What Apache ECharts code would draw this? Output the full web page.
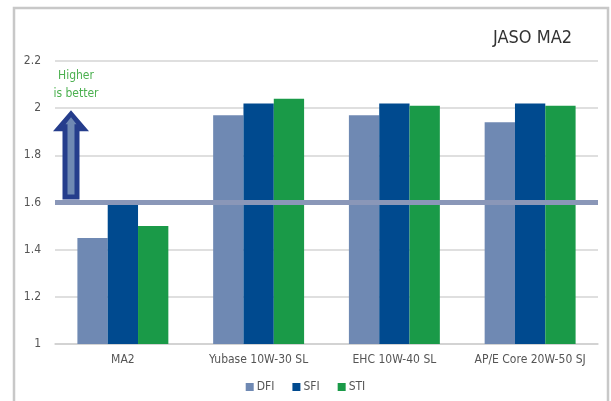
<!DOCTYPE html>
<html><head><meta charset="utf-8">
<script src="https://cdn.jsdelivr.net/npm/echarts@6/dist/echarts.min.js"></script>
<style>html,body{margin:0;padding:0;background:#fff}#c{width:611px;height:401px}</style>
</head><body><div id="c"></div>
<script>
const categories = ['MA2', 'Yubase 10W-30 SL', 'EHC 10W-40 SL', 'AP/E Core 20W-50 SJ'];
const dfi = [1.45, 1.97, 1.97, 1.94];
const sfi = [1.60, 2.02, 2.02, 2.02];
const sti = [1.50, 2.04, 2.01, 2.01];
const seriesNames = ['DFI', 'SFI', 'STI'];
const yTicks = [1, 1.2, 1.4, 1.6, 1.8, 2, 2.2];
const threshold = 1.6;

const FONT = '"DejaVu Sans Condensed", "DejaVu Sans", sans-serif';
const ST = 'condensed';
const colors = ['#6f89b3', '#004a8f', '#1a9a48'];
const chart = echarts.init(document.getElementById('c'), null, {renderer: 'canvas'});

const option = {
  animation: false,
  textStyle: {fontFamily: FONT, fontStyle: ST},
  title: {text: 'JASO MA2', right: 34, top: 24, textStyle: {fontFamily: FONT, fontStyle: ST, fontSize: 18, fontWeight: 'normal', color: '#333'}},
  grid: {left: 55, right: 13, top: 61, bottom: 57},
  legend: {bottom: 3, left: 'center', itemWidth: 8, itemHeight: 8, itemGap: 18, icon: 'rect',
    textStyle: {fontFamily: FONT, fontStyle: ST, fontSize: 12, color: '#555', padding: [0, 0, 0, -2]}, data: seriesNames},
  xAxis: {type: 'category', data: categories,
    axisLine: {lineStyle: {color: '#d0d0d0', width: 1.5}}, axisTick: {show: false},
    axisLabel: {interval: 0, fontFamily: FONT, fontStyle: ST, fontSize: 12, color: '#555', margin: 10}},
  yAxis: {type: 'value', min: 1, max: 2.2, interval: 0.2,
    axisLine: {show: false}, axisTick: {show: false},
    splitLine: {lineStyle: {color: '#d4d4d4', width: 1.5}},
    axisLabel: {fontFamily: FONT, fontStyle: ST, fontSize: 12, color: '#555', margin: 14,
      formatter: v => String(Math.round(v * 10) / 10)}},
  series: [
    {name: 'DFI', type: 'bar', data: dfi, itemStyle: {color: colors[0]}, barGap: '0%', barCategoryGap: '33%'},
    {name: 'SFI', type: 'bar', data: sfi, itemStyle: {color: colors[1]}},
    {name: 'STI', type: 'bar', data: sti, itemStyle: {color: colors[2]},
      markLine: {silent: true, symbol: 'none', label: {show: false}, z: 10,
        lineStyle: {color: '#8a97b8', width: 5, type: 'solid'}, data: [{yAxis: threshold}]}}
  ]
};
chart.setOption(option);

const base = chart.convertToPixel({yAxisIndex: 0}, threshold);
const top2 = chart.convertToPixel({yAxisIndex: 0}, 2);
const ax = 71;
const tipY = top2 + 2;
const headBase = tipY + 21;
const bottomY = base - 3;
chart.setOption({
  graphic: [
    {type: 'rect', shape: {x: 14, y: 8, width: 594, height: 420}, style: {fill: 'none', stroke: '#c8c8c8', lineWidth: 2.5}, z: 0, silent: true},
    {type: 'polygon', z: 20, shape: {points: [[ax, tipY], [ax + 18, headBase], [ax + 8.5, headBase], [ax + 8.5, bottomY], [ax - 8.5, bottomY], [ax - 8.5, headBase], [ax - 18, headBase]]},
      style: {fill: '#253d8c'}},
    {type: 'polygon', z: 21, shape: {points: [[ax, tipY + 7], [ax + 5.5, tipY + 14], [ax + 3.5, tipY + 14], [ax + 3.5, bottomY - 5], [ax - 3.5, bottomY - 5], [ax - 3.5, tipY + 14], [ax - 5.5, tipY + 14]]},
      style: {fill: '#6f89b3'}},
    {type: 'text', z: 20, style: {text: 'Higher\nis better', x: 76, y: 67, textAlign: 'center', fill: '#4cb050', fontFamily: FONT, fontStyle: ST, fontSize: 12, lineHeight: 18}}
  ]
});
</script></body></html>
